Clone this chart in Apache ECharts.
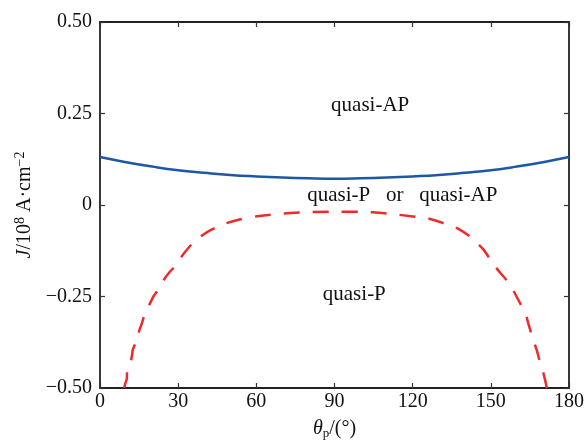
<!DOCTYPE html>
<html>
<head>
<meta charset="utf-8">
<script src="https://cdn.jsdelivr.net/npm/echarts@6/dist/echarts.min.js"></script>
<style>html,body{margin:0;padding:0;background:#fff;}#c{width:587px;height:445px;}</style>
</head>
<body>
<div id="c"></div>
<script>
// ---- data ----
var xTicks = [0, 30, 60, 90, 120, 150, 180];
var yTicks = [-0.5, -0.25, 0, 0.25, 0.5];

var blueTheta = [0, 10, 20, 30, 40, 50, 60, 70, 80, 90, 100, 110, 120, 130, 140, 150, 160, 170, 180];
var blueJ = [0.131, 0.117, 0.105, 0.095, 0.088, 0.082, 0.078, 0.075, 0.073, 0.072, 0.073, 0.075, 0.078, 0.082, 0.088, 0.095, 0.105, 0.117, 0.131];

var redTheta = [9.3, 9.6, 10.3, 10.4, 11.5, 12.3, 12.6, 13.6, 14.8, 15.3, 16.0, 16.8, 18.0, 19.4, 20.5, 21.9, 23.5, 25.1, 26.5, 28.3, 30, 32.1, 36, 41.1, 47.5, 53.9, 60.3, 73, 90, 105, 115, 126.7, 132, 137.6, 142.7, 147.2, 151, 153.6, 156, 158, 160, 161.5, 163.2, 164.4, 166.3, 167.6, 168.5, 169.5, 170.8, 171.5];
var redJ = [-0.5, -0.49, -0.475, -0.455, -0.44, -0.41, -0.395, -0.378, -0.35, -0.338, -0.325, -0.306, -0.285, -0.266, -0.25, -0.236, -0.215, -0.198, -0.185, -0.171, -0.155, -0.133, -0.101, -0.074, -0.052, -0.039, -0.031, -0.022, -0.018, -0.020, -0.027, -0.038, -0.05, -0.065, -0.09, -0.122, -0.162, -0.185, -0.205, -0.225, -0.252, -0.272, -0.293, -0.324, -0.369, -0.396, -0.42, -0.441, -0.477, -0.5];

var noteTexts = ['quasi-AP', 'quasi-P   or   quasi-AP', 'quasi-P'];
var noteTheta = [103.7, 116, 97.6];
var noteJ = [0.272, 0.026, -0.244];

// ---- build ----
var FONT = '"Liberation Serif", "Times New Roman", serif';
var TXT = '#111';
var AX = '#222';

function zip(a, b) { return a.map(function (v, i) { return [v, b[i]]; }); }

function axisCommon() {
  return {
    axisLine: { show: true, onZero: false, lineStyle: { color: AX, width: 1.8 } },
    axisTick: { show: true, inside: true, length: 5, lineStyle: { color: '#333', width: 1.2 } },
    splitLine: { show: false }
  };
}

function fmtY(v) {
  if (Math.abs(v) < 1e-9) return '0';
  return (v < 0 ? '\u2212' : '') + Math.abs(v).toFixed(2);
}

var option = {
  backgroundColor: '#fff',
  animation: false,
  grid: { left: 100, right: 18, top: 22, bottom: 53 },
  xAxis: [
    Object.assign({
      type: 'value', min: xTicks[0], max: xTicks[xTicks.length - 1], interval: 30,
      position: 'bottom',
      axisLabel: { color: TXT, fontFamily: FONT, fontSize: 20, margin: 4 },
      name: '{i|\u03B8}{sub|p}{n|/(\u00B0)}',
      nameLocation: 'middle', nameGap: 30,
      nameTextStyle: {
        color: TXT, fontFamily: FONT,
        rich: {
          i: { fontFamily: FONT, fontStyle: 'italic', fontSize: 20, color: TXT, lineHeight: 22 },
          sub: { fontFamily: FONT, fontSize: 13, color: TXT, verticalAlign: 'bottom', lineHeight: 22 },
          n: { fontFamily: FONT, fontSize: 20, color: TXT, lineHeight: 22 }
        }
      }
    }, axisCommon()),
    Object.assign({
      type: 'value', min: xTicks[0], max: xTicks[xTicks.length - 1], interval: 30,
      position: 'top', axisLabel: { show: false }
    }, axisCommon())
  ],
  yAxis: [
    Object.assign({
      type: 'value', min: yTicks[0], max: yTicks[yTicks.length - 1], interval: 0.25,
      position: 'left',
      axisLabel: { color: TXT, fontFamily: FONT, fontSize: 20, margin: 8, formatter: fmtY },
      name: '{i|J}{n|/10}{s|8}{n| A\u00B7cm}{s|\u22122}',
      nameLocation: 'middle', nameGap: 60, nameRotate: 90,
      nameTextStyle: {
        color: TXT, fontFamily: FONT,
        rich: {
          i: { fontFamily: FONT, fontStyle: 'italic', fontSize: 20, color: TXT, lineHeight: 22 },
          n: { fontFamily: FONT, fontSize: 20, color: TXT, lineHeight: 22 },
          s: { fontFamily: FONT, fontSize: 14, color: TXT, verticalAlign: 'top', lineHeight: 22 }
        }
      }
    }, axisCommon()),
    Object.assign({
      type: 'value', min: yTicks[0], max: yTicks[yTicks.length - 1], interval: 0.25,
      position: 'right', axisLabel: { show: false }
    }, axisCommon())
  ],
  series: [
    {
      type: 'line', data: zip(blueTheta, blueJ), smooth: true, showSymbol: false,
      lineStyle: { color: '#1f56a8', width: 2.5 }, z: 3
    },
    {
      type: 'line', data: zip(redTheta, redJ), smooth: 0.2, showSymbol: false,
      lineStyle: { color: '#ee2a2a', width: 2.5, type: [16, 13] }, z: 3
    },
    {
      type: 'scatter', symbolSize: 0,
      itemStyle: { opacity: 1 },
      data: noteTexts.map(function (t, i) { return { value: [noteTheta[i], noteJ[i]], name: t }; }),
      label: {
        show: true, position: 'inside', formatter: function (p) { return p.name; },
        color: TXT, opacity: 1, fontFamily: FONT, fontSize: 21, textBorderWidth: 0
      },
      emphasis: { disabled: true },
      silent: true
    }
  ]
};

var chart = echarts.init(document.getElementById('c'), null, { renderer: 'canvas' });
chart.setOption(option);
</script>
</body>
</html>
